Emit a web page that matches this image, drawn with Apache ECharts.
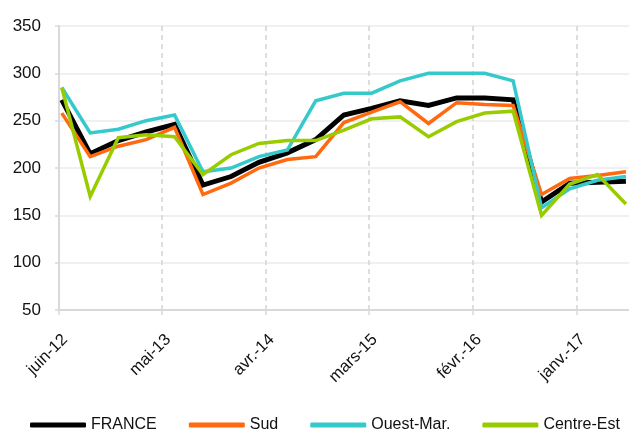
<!DOCTYPE html>
<html>
<head>
<meta charset="utf-8">
<script src="https://cdn.jsdelivr.net/npm/echarts@6/dist/echarts.min.js"></script>
<style>
  html, body { margin: 0; padding: 0; background: #fff; }
  #chart { width: 629px; height: 446px; }
</style>
</head>
<body>
<div id="chart"></div>
<script>
// dates des relevés (trimestriels)
const dates = [
  '2012-06-10', '2012-09-10', '2012-12-10', '2013-03-10', '2013-06-10',
  '2013-09-10', '2013-12-10', '2014-03-10', '2014-06-10', '2014-09-10',
  '2014-12-10', '2015-03-10', '2015-06-10', '2015-09-10', '2015-12-10',
  '2016-03-10', '2016-06-10', '2016-09-10', '2016-12-10', '2017-03-10',
  '2017-06-10'
];
const france = [272, 215, 229, 238, 246, 182, 191, 206, 216, 230, 256, 263, 271, 266, 274, 274, 272, 164, 184, 185, 186];
const sud = [258, 212, 223, 230, 243, 172, 184, 200, 209, 212, 248, 259, 270, 247, 269, 267, 266, 172, 189, 192, 196];
const ouestMar = [285, 237, 241, 250, 256, 196, 200, 212, 219, 271, 279, 279, 292, 300, 300, 300, 292, 158, 178, 187, 191];
const centreEst = [285, 170, 232, 235, 233, 193, 214, 226, 229, 229, 240, 252, 254, 233, 249, 258, 260, 150, 183, 193, 162];

// graduations de l'axe des dates
const tickDates = ['2012-06-01', '2013-05-01', '2014-04-01', '2015-03-01', '2016-02-01', '2017-01-01'];
const tickLabels = ['juin-12', 'mai-13', 'avr.-14', 'mars-15', 'févr.-16', 'janv.-17'];

const font = "'Liberation Sans', Arial, sans-serif";

// jours écoulés depuis le début de l'axe
function dayNum(d) {
  const p = d.split('-').map(Number);
  return (Date.UTC(p[0], p[1] - 1, p[2]) - Date.UTC(2012, 5, 1)) / 86400000;
}
const tickDays = tickDates.map(dayNum);

function lineSeries(name, values, color, width) {
  return {
    name: name,
    type: 'line',
    data: values.map((v, i) => [dayNum(dates[i]), v]),
    showSymbol: false,
    symbol: 'none',
    lineStyle: { color: color, width: width, join: 'miter' },
    itemStyle: { color: color },
    z: 2
  };
}

const chart = echarts.init(document.getElementById('chart'));
chart.setOption({
  animation: false,
  grid: { left: 59, right: 0, top: 26, bottom: 136 },
  xAxis: {
    type: 'value',
    min: 0,
    max: dayNum('2017-06-20'),
    axisLine: { lineStyle: { color: '#d9d9d9', width: 2 } },
    axisTick: { show: true, length: 5, customValues: tickDays, lineStyle: { color: '#d9d9d9', width: 1.5 } },
    axisLabel: {
      customValues: tickDays,
      rotate: 45,
      margin: 21,
      verticalAlign: 'top',
      fontFamily: font,
      fontSize: 16.5,
      color: '#111',
      formatter: function (value) {
        let best = 0;
        tickDays.forEach((t, i) => {
          if (Math.abs(t - value) < Math.abs(tickDays[best] - value)) best = i;
        });
        return tickLabels[best];
      }
    },
    splitLine: { show: true, lineStyle: { color: '#d4d4d4', width: 1.5, type: [5, 4] } }
  },
  yAxis: {
    type: 'value',
    min: 50,
    max: 350,
    interval: 50,
    axisLine: { show: true, lineStyle: { color: '#d9d9d9', width: 2 } },
    axisTick: { show: true, length: 4, lineStyle: { color: '#d9d9d9', width: 1.5 } },
    axisLabel: { margin: 18, fontFamily: font, fontSize: 17, color: '#111' },
    splitLine: { show: true, lineStyle: { color: '#ebebeb', width: 1.5 } }
  },
  legend: {
    left: 30,
    top: 417,
    width: 620,
    padding: 0,
    icon: 'roundRect',
    itemWidth: 56,
    itemHeight: 5,
    itemGap: 32,
    textStyle: { fontFamily: font, fontSize: 16, color: '#111' },
    data: ['FRANCE', 'Sud', 'Ouest-Mar.', 'Centre-Est']
  },
  series: [
    lineSeries('FRANCE', france, '#000000', 5),
    lineSeries('Sud', sud, '#ff6a10', 3.5),
    lineSeries('Ouest-Mar.', ouestMar, '#35c9cc', 3.5),
    lineSeries('Centre-Est', centreEst, '#99cc00', 3.5)
  ]
});
</script>
</body>
</html>
